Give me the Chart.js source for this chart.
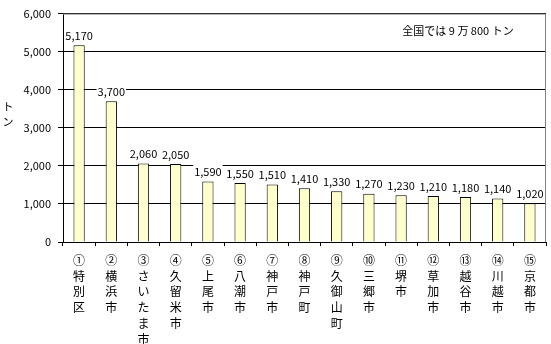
<!DOCTYPE html>
<html lang="ja">
<head>
  <meta charset="UTF-8" />
  <title>トン</title>
  <script src="https://cdn.jsdelivr.net/npm/chart.js"></script>
  <style>
    body { margin: 0; background: #fff; }
    .wrap { width: 551px; height: 344px; }
  </style>
</head>
<body>
  <div class="wrap"><canvas id="chart" width="551" height="344"></canvas></div>
  <script>
    const marks = ['①', '②', '③', '④', '⑤', '⑥', '⑦', '⑧', '⑨', '⑩', '⑪', '⑫', '⑬', '⑭', '⑮'];
    const cities = ['特別区', '横浜市', 'さいたま市', '久留米市', '上尾市', '八潮市', '神戸市', '神戸町',
      '久御山町', '三郷市', '堺市', '草加市', '越谷市', '川越市', '京都市'];
    const values = [5170, 3700, 2060, 2050, 1590, 1550, 1510, 1410, 1330, 1270, 1230, 1210, 1180, 1140, 1020];
    const yTicks = [0, 1000, 2000, 3000, 4000, 5000, 6000];
    const yTitle = 'トン';
    const note = '全国では 9 万 800 トン';

    const font = "'Noto Sans CJK JP', 'DejaVu Sans', sans-serif";
    const labels = cities.map((c, i) => [marks[i], ...c.split('')]);

    const extras = {
      id: 'extras',
      afterDraw(chart) {
        const ctx = chart.ctx;
        const area = chart.chartArea;
        ctx.save();
        // gray frame top / right
        ctx.strokeStyle = '#808080';
        ctx.lineWidth = 1;
        ctx.beginPath();
        ctx.moveTo(area.left, area.top + 0.5);
        ctx.lineTo(area.right - 0.5, area.top + 0.5);
        ctx.lineTo(area.right - 0.5, area.bottom);
        ctx.stroke();

        // value labels
        ctx.font = '11px ' + font;
        ctx.textAlign = 'center';
        ctx.textBaseline = 'bottom';
        const meta = chart.getDatasetMeta(0);
        meta.data.forEach((bar, i) => {
          const txt = values[i].toLocaleString('en-US');
          const w = ctx.measureText(txt).width;
          ctx.fillStyle = '#fff';
          ctx.fillRect(bar.x - w / 2 - 1, bar.y - 17, w + 2, 13);
          ctx.fillStyle = '#000';
          ctx.fillText(txt, bar.x, bar.y - 4);
        });

        // note
        ctx.textAlign = 'center';
        ctx.textBaseline = 'middle';
        ctx.fillText(note, 458, 31);

        // vertical y title, one character per line
        ctx.font = '11px ' + font;
        yTitle.split('').forEach((ch, i) => {
          ctx.fillText(ch, 8, 107 + i * 15);
        });
        ctx.restore();
      }
    };

    new Chart(document.getElementById('chart'), {
      type: 'bar',
      data: {
        labels: labels,
        datasets: [{
          data: values,
          backgroundColor: '#FFFFCC',
          borderColor: '#000',
          borderWidth: 1,
          barPercentage: 0.7,
          categoryPercentage: 0.5
        }]
      },
      options: {
        responsive: false,
        animation: false,
        layout: { padding: { top: 12, right: 5, left: 0, bottom: 0 } },
        plugins: { legend: { display: false }, tooltip: { enabled: false } },
        scales: {
          x: {
            grid: { offset: true, drawOnChartArea: false, tickLength: 4, color: '#000' },
            border: { color: '#000' },
            ticks: {
              maxRotation: 0, autoSkip: false, color: '#000', padding: 6,
              font: { family: font, size: 12, lineHeight: 1.33 }
            },
            afterFit(axis) { axis.height = 102; }
          },
          y: {
            min: 0, max: 6000,
            afterBuildTicks(axis) { axis.ticks = yTicks.map(v => ({ value: v })); },
            grid: { color: '#000', tickLength: 5 },
            border: { color: '#000' },
            ticks: {
              color: '#000', padding: 7,
              font: { family: font, size: 11 },
              callback: v => v.toLocaleString('en-US')
            },
            afterFit(axis) { axis.width = 63; }
          }
        }
      },
      plugins: [extras]
    });
  </script>
</body>
</html>
